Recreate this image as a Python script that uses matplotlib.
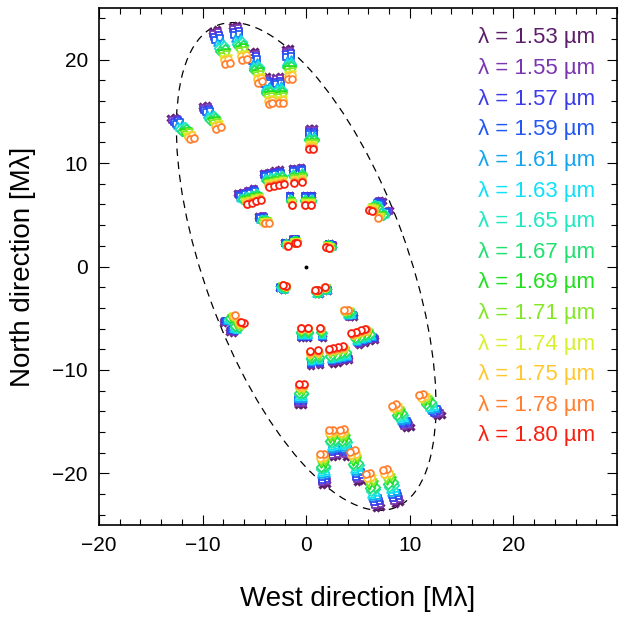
import numpy as np
import matplotlib
matplotlib.use("Agg")
import matplotlib.pyplot as plt
from matplotlib.patches import Ellipse
from matplotlib.ticker import MultipleLocator

plt.rcParams['font.family'] = ['Liberation Sans', 'DejaVu Sans']

# Wavelength channels (µm), their colours and symbols
wavelengths = [1.53, 1.55, 1.57, 1.59, 1.61, 1.63, 1.65, 1.67, 1.69, 1.71, 1.74, 1.75, 1.78, 1.80]
colors = ['#5c1d6b', '#7a35b0', '#3b3bea', '#2257f2', '#14a5f0', '#10e0f8', '#20e8c0',
          '#20e070', '#20e020', '#84e828', '#d8f030', '#ffc830', '#ff8030', '#f82010']
markers = ['X', 's', 's', 's', '^', '^', 'D', 'D', 'v', 'v', 'v', 'o', 'o', 'o']

# Spatial frequencies (Mλ) at the reference wavelength 1.53 µm (one half-plane;
# the symmetric points -u,-v are plotted too)
ref_wl = 1.53
# observations covering all 14 channels
u_full = [0.30, 0.80, -4.17, -3.63, -3.10, -2.56, -1.33, -0.46, -6.68, -6.17, -5.65, -5.14,
          -1.60, -0.15, 0.55, -2.10, -1.30, -1.05, 2.25, 2.60, 7.10, 7.45]
v_full = [13.35, 13.35, 9.07, 9.18, 9.29, 9.40, 9.55, 9.65, 7.08, 7.24, 7.40, 7.56,
          6.95, 6.95, 6.95, 2.35, 2.65, 2.70, 2.25, 2.10, 6.40, 6.30]
# observations covering 1.53-1.78 µm only
u_part = [-9.10, -8.60, -7.20, -6.70, -5.45, -4.95, -4.20, -3.80, -2.00, -1.55, -3.00, -2.55,
          -10.10, -9.60, -13.10, -12.65, -4.65, -4.20, 8.05]
v_part = [22.80, 22.95, 23.25, 23.40, 20.70, 20.85, 18.30, 18.40, 21.05, 21.15, 18.35, 18.45,
          15.50, 15.65, 14.35, 14.50, 4.85, 4.90, 5.45]

# dashed ellipse (semi-major, semi-minor in Mλ, orientation in degrees)
ell_a, ell_b, ell_angle = 24.85, 9.8, 110.0

xticks = [-20, -10, 0, 10, 20]
yticks = [-20, -10, 0, 10, 20]

fig = plt.figure(figsize=(6.35, 6.19), dpi=100)
ax = fig.add_axes([99/635, 94/619, 518/635, 517/619])

uf, vf = np.array(u_full), np.array(v_full)
up, vp = np.array(u_part), np.array(v_part)
for i, (wl, c, m) in enumerate(zip(wavelengths, colors, markers)):
    s = ref_wl / wl
    if wl <= 1.78:
        uu = np.concatenate([uf, -uf, up, -up]) * s
        vv = np.concatenate([vf, -vf, vp, -vp]) * s
    else:
        uu = np.concatenate([uf, -uf]) * s
        vv = np.concatenate([vf, -vf]) * s
    if m == 'X':
        ax.scatter(uu, vv, s=30, marker=m, color=c, linewidths=0.3, zorder=3 + i)
    else:
        ax.scatter(uu, vv, s=24, marker=m, facecolors='white', edgecolors=c,
                   linewidths=1.3, zorder=3 + i)

ax.add_patch(Ellipse((0, 0), 2 * ell_a, 2 * ell_b, angle=ell_angle, fill=False,
                     ls=(0, (6, 4.5)), lw=0.9, color='black', zorder=2))
ax.plot([0], [0], 'o', color='black', ms=1.8, zorder=30)

for i, (wl, c) in enumerate(zip(wavelengths, colors)):
    ax.text(0.731, 0.942 - i * 0.0592, 'λ = %.2f µm' % wl, color=c, fontsize=16,
            transform=ax.transAxes, ha='left', va='center')

ax.set_xlim(-20, 30)
ax.set_ylim(-25, 25)
ax.set_xticks(xticks)
ax.set_yticks(yticks)
ax.xaxis.set_minor_locator(MultipleLocator(2))
ax.yaxis.set_minor_locator(MultipleLocator(2))
ax.tick_params(which='both', direction='in', top=True, right=True, labelsize=15, width=0.8)
ax.tick_params(which='major', length=7.5, pad=8)
ax.tick_params(which='minor', length=4.5)
for sp in ax.spines.values():
    sp.set_linewidth(1.2)

ax.set_xlabel('West direction [Mλ]', fontsize=20, labelpad=22)
ax.set_ylabel('North direction [Mλ]', fontsize=20, labelpad=12)

fig.savefig('out.png', dpi=100)
